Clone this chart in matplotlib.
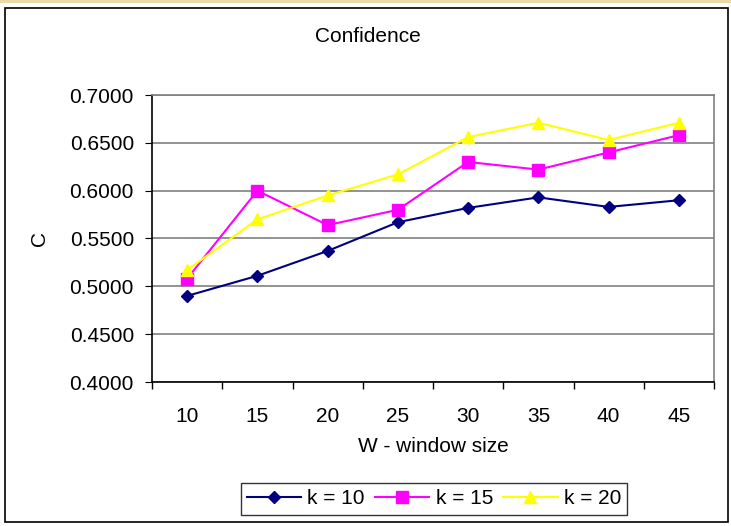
import numpy as np
import matplotlib.pyplot as plt
from matplotlib.patches import Rectangle
from matplotlib.ticker import FixedLocator, FormatStrFormatter

plt.rcParams['font.family'] = ['Liberation Sans', 'DejaVu Sans']

# window sizes and confidence per k
window = ["10", "15", "20", "25", "30", "35", "40", "45"]
conf_k10 = [0.490, 0.511, 0.537, 0.567, 0.582, 0.593, 0.583, 0.590]
conf_k15 = [0.508, 0.600, 0.564, 0.580, 0.630, 0.622, 0.640, 0.658]
conf_k20 = [0.517, 0.570, 0.595, 0.617, 0.656, 0.671, 0.653, 0.671]

fs = 15

fig = plt.figure(figsize=(7.31, 5.26), dpi=100)
ax = fig.add_axes([152 / 731, 1 - 382 / 526, 562 / 731, 287 / 526])

x = np.arange(1, len(window) + 1)
ax.plot(x, conf_k10, color="#000080", lw=1.5, marker="D", ms=6, label="k = 10")
ax.plot(x, conf_k15, color="#FF00FF", lw=1.5, marker="s", ms=8, label="k = 15")
ax.plot(x, conf_k20, color="#FFFF00", lw=1.5, marker="^", ms=9, label="k = 20")

ax.set_xlim(0.5, len(window) + 0.5)
ax.set_ylim(0.4, 0.7)
ax.set_yticks(np.arange(0.4, 0.7001, 0.05))
ax.yaxis.set_major_formatter(FormatStrFormatter("%.4f"))
ax.set_xticks(x)
ax.set_xticklabels(window)
ax.xaxis.set_minor_locator(FixedLocator(np.arange(0.5, len(window) + 1, 1)))
ax.tick_params(axis="x", which="major", length=0, pad=18, labelsize=fs)
ax.tick_params(axis="x", which="minor", length=5, direction="out", width=1)
ax.tick_params(axis="y", length=5, direction="out", labelsize=fs, pad=8)

ax.grid(axis="y", color="#808080", lw=1.2)
ax.set_axisbelow(True)
ax.spines["left"].set_color("black")
ax.spines["bottom"].set_color("black")
ax.spines["right"].set_color("#808080")
ax.spines["top"].set_color("#808080")
for s in ax.spines.values():
    s.set_linewidth(1.2)

fig.text(368 / 731, 1 - 37 / 526, "Confidence", ha="center", va="center", fontsize=fs)
fig.text(433 / 731, 1 - 447 / 526, "W - window size", ha="center", va="center", fontsize=fs)
fig.text(40 / 731, 1 - 238 / 526, "C", ha="center", va="center", rotation=90, fontsize=fs)

leg = fig.legend(loc="center", bbox_to_anchor=(434 / 731, 1 - 499 / 526), ncol=3,
                 fontsize=fs, frameon=True, fancybox=False, edgecolor="black",
                 handlelength=2.6, columnspacing=0.5, handletextpad=0.3,
                 borderpad=0.3)
leg.get_frame().set_linewidth(1.0)

# outer chart border and slide strip along the top
fig.patches.append(Rectangle((5 / 731, 4 / 526), 723 / 731, 514 / 526,
                             transform=fig.transFigure, fill=False,
                             edgecolor="black", lw=1.2))
fig.patches.append(Rectangle((0, 1 - 3 / 526), 1, 3 / 526, transform=fig.transFigure,
                             facecolor="#EBD9A8", edgecolor="none"))

fig.savefig("out.png", dpi=100)
